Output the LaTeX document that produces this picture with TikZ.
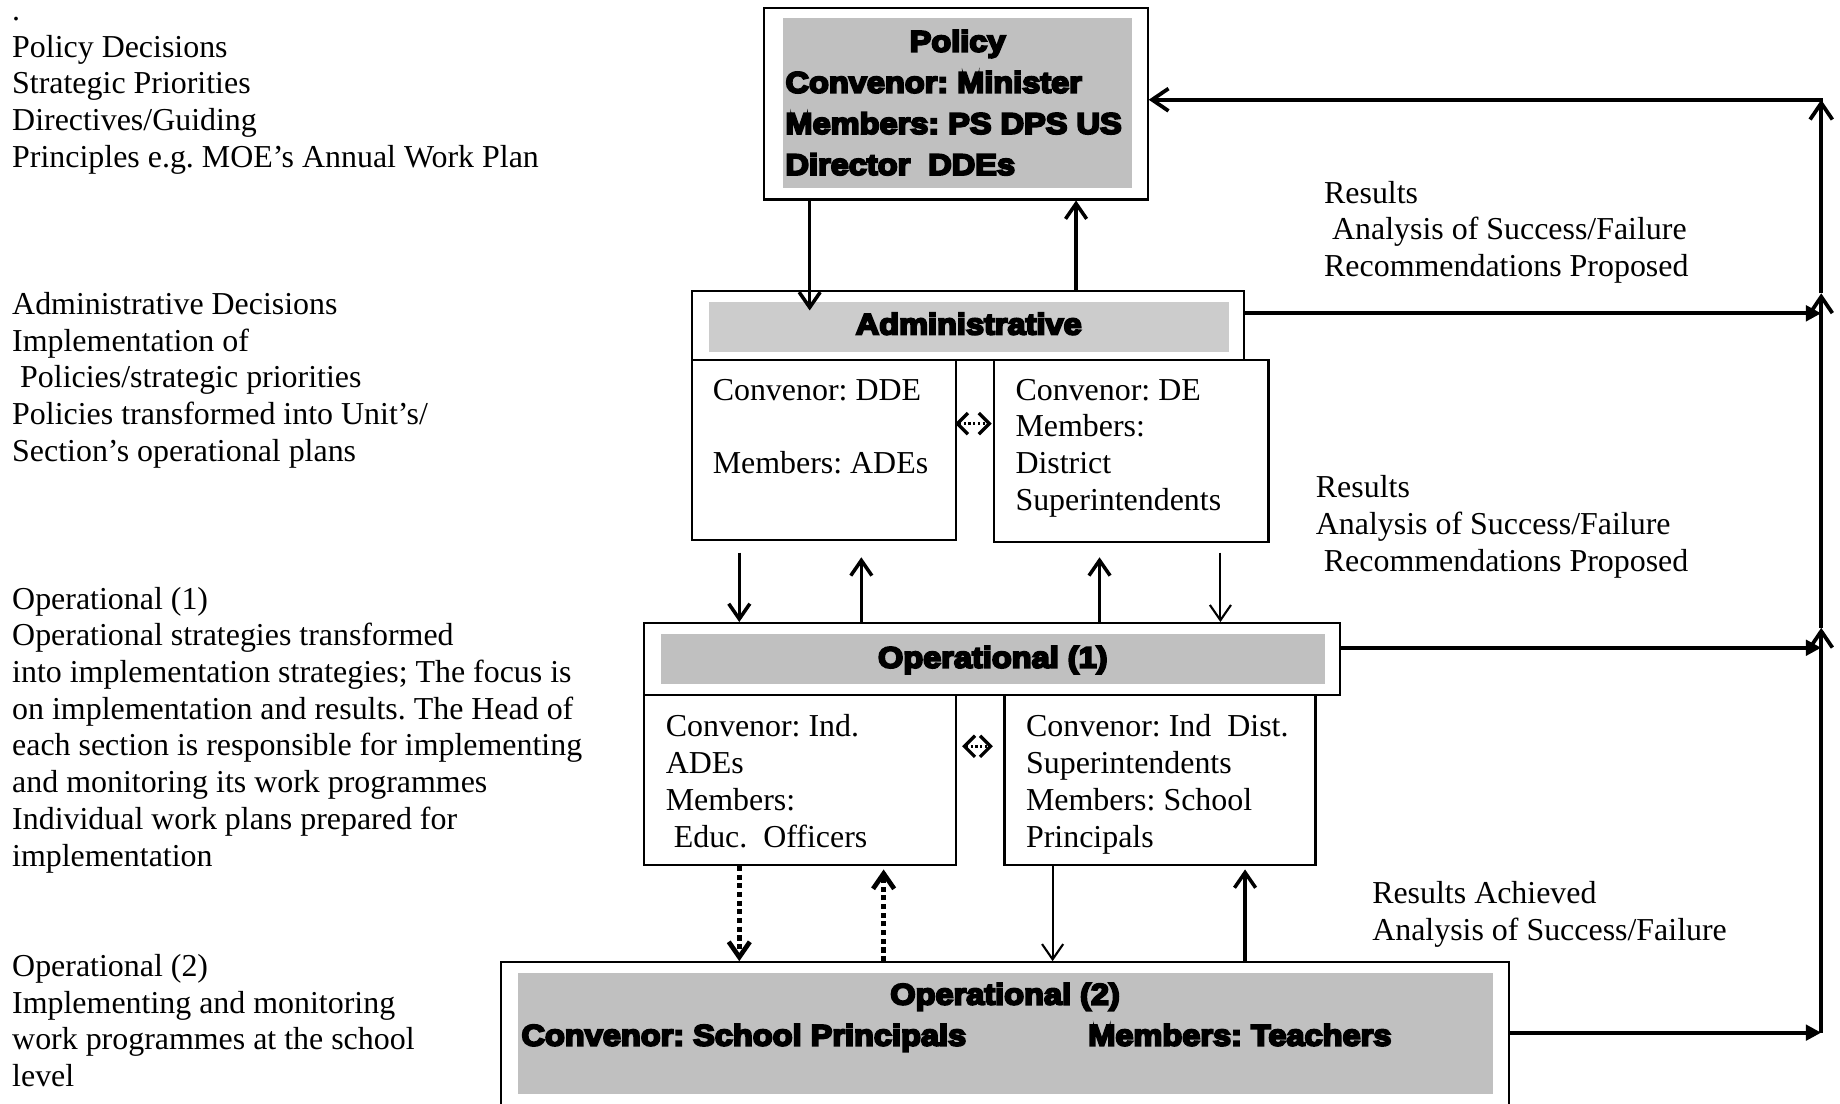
\documentclass[tikz,border=0pt]{standalone}
\usepackage{fontspec}
\setmainfont{Liberation Serif}
\newfontfamily\heavysans{Liberation Sans}[FakeStretch=1.1,FakeBold=7]
\usetikzlibrary{arrows.meta,fit,calc}
\definecolor{panel}{RGB}{192,192,192}
\definecolor{panellight}{RGB}{204,204,204}
% left-aligned block of lines whose baseline is the first line's
\newcommand\rowstack[1]{\vtop{\halign{##\hfil\cr#1\crcr}}}
\frenchspacing

\begin{document}
\begin{tikzpicture}[x=0.5pt,y=-0.5pt,
  frame/.style={draw=black,line width=0.9pt,inner sep=0pt,fill=white},
  bar/.style={fill=panel,draw=none,inner sep=0pt},
  body/.style={font=\fontsize{13.6pt}{15.65pt}\selectfont,inner sep=0pt,anchor=base west},
  head/.style={font=\heavysans\bfseries\fontsize{12.6pt}{17.5pt}\selectfont,inner sep=0pt},
  barb/.style={-{Straight Barb[length=6.5pt,width=9pt]}},
  heavyline/.style={line width=1.5pt},
  lightline/.style={line width=0.9pt},
  dashline/.style={line width=2pt,dash pattern=on 2.2pt off 1.5pt},
  feed/.style={line width=1.6pt},
  feedtip/.style={feed,-{Triangle[length=6.5pt,width=6.5pt]}},
  feedbarb/.style={feed,-{Straight Barb[length=7pt,width=9.5pt]}},
  peer/.style={line width=1.4pt,dash pattern=on 0.9pt off 1.1pt,
    {Straight Barb[length=4.5pt,width=9pt]}-{Straight Barb[length=4.5pt,width=9pt]}}
]
\useasboundingbox (0,0) rectangle (1568,940);

% ---- Policy level ----
\node[frame, fit={(651,7) (978,170)}] (pol) {};
\node[bar, fit={(667,15) (965,160)}] (polbar) {};
\node[head, anchor=base] (poltitle) at (polbar.north |- 0,44) {Policy};
\node[head, anchor=base west] (polmembers) at (669,79)
  {\rowstack{Convenor: Minister\cr Members: PS DPS US\cr Director\ \ DDEs}};

% ---- Administrative level ----
\node[frame, fit={(590,248) (1060,307)}] (adm) {};
\node[bar, fill=panellight, fit={(604,257) (1047,300)}] (admbar) {};
\node[head, anchor=base] (admtitle) at (admbar.north |- 0,285) {Administrative};
\node[frame, fit={(590,307) (815,460)}] (admL) {};
\node[frame, fit={(847,307) (1081,462)}] (admR) {};
\node[body] (admLtext) at (607,341)
  {\rowstack{Convenor: DDE\cr \strut\cr Members: ADEs}};
\node[body] (admRtext) at (865,341)
  {\rowstack{Convenor: DE\cr Members:\cr District\cr Superintendents}};

% ---- Operational (1) level ----
\node[frame, fit={(549,531) (1142,592)}] (op1) {};
\node[bar, fit={(563,540) (1129,583)}] (op1bar) {};
\node[head, anchor=base] (op1title) at (op1bar.north |- 0,569) {Operational (1)};
\node[frame, fit={(549,592) (815,737)}] (op1L) {};
\node[frame, fit={(856,592) (1121,737)}] (op1R) {};
\node[body] (op1Ltext) at (567,628)
  {\rowstack{Convenor: Ind.\cr ADEs\cr Members:\cr \ Educ.\ \ Officers}};
\node[body] (op1Rtext) at (874,628)
  {\rowstack{Convenor: Ind\ \ Dist.\cr Superintendents\cr Members: School\cr Principals}};

% ---- Operational (2) level ----
\node[frame, fit={(427,820) (1286,946)}] (op2) {};
\node[bar, fit={(441,829) (1272,932)}] (op2bar) {};
\node[head, anchor=base] (op2title) at (op2bar.north |- 0,856) {Operational (2)};
\node[head, anchor=base west] (op2conv) at (444,891) {Convenor: School Principals};
\node[head, anchor=base west] (op2mem) at (927,891) {Members: Teachers};

% ---- descriptions on the left ----
\node[body] (descPolicy) at (10,17.5) {\rowstack{.\cr Policy Decisions\cr Strategic Priorities\cr
  Directives/Guiding\cr Principles e.g. MOE's Annual Work Plan}};
\node[body] (descAdm) at (10,268) {\rowstack{Administrative Decisions\cr Implementation of\cr
  \ Policies/strategic priorities\cr Policies transformed into Unit's/\cr Section's operational plans}};
\node[body] (descOp1) at (10,519) {\rowstack{Operational (1)\cr Operational strategies transformed\cr
  into implementation strategies; The focus is\cr on implementation and results. The Head of\cr
  each section is responsible for implementing\cr and monitoring its work programmes\cr
  Individual work plans prepared for\cr implementation}};
\node[body] (descOp2) at (10,832) {\rowstack{Operational (2)\cr Implementing and monitoring\cr
  work programmes at the school\cr level}};

% ---- feedback labels on the right ----
\node[body] (fbTextA) at (1128,173) {\rowstack{Results\cr \ Analysis of Success/Failure\cr Recommendations Proposed}};
\node[body] (fbTextB) at (1121,424) {\rowstack{Results\cr Analysis of Success/Failure\cr \ Recommendations Proposed}};
\node[body] (fbTextC) at (1169,770) {\rowstack{Results Achieved\cr Analysis of Success/Failure}};

% ---- arrows between levels ----
\draw[heavyline, barb] (pol.south -| 690,0) -- ($(admbar.north -| 690,0)+(0,8)$);
\draw[heavyline, barb] (adm.north -| 917,0) -- (pol.south -| 917,0);

\draw[heavyline, barb] ($(admL.south -| 630,0)+(0,10)$) -- (op1.north -| 630,0);
\draw[heavyline, barb] (op1.north -| 734,0) -- ($(admL.south -| 734,0)+(0,14)$);
\draw[heavyline, barb] (op1.north -| 937,0) -- ($(admR.south -| 937,0)+(0,12)$);
\draw[lightline, barb] ($(admR.south -| 1040,0)+(0,8)$) -- (op1.north -| 1040,0);

\draw[dashline, barb] (op1L.south -| 630,0) -- (op2.north -| 630,0);
\draw[dashline, barb] (op2.north -| 753,0) -- ($(op1L.south -| 753,0)+(0,3)$);
\draw[lightline, barb] (op1R.south -| 897,0) -- (op2.north -| 897,0);
\draw[heavyline, barb] (op2.north -| 1061,0) -- ($(op1R.south -| 1061,0)+(0,3)$);

% ---- links between peer committees ----
\draw[peer] ($(admL.east |- 0,361)+(-2,0)$) -- ($(admR.west |- 0,361)+(-1,0)$);
\draw[peer] ($(op1L.east |- 0,636)+(4,0)$) -- ($(op1R.west |- 0,636)+(-9,0)$);

% ---- feedback loop on the right ----
\coordinate (fbTop) at (1552,85);
\coordinate (fbAdm) at (1552,267);
\coordinate (fbOp1) at (1552,552);
\coordinate (fbOp2) at (1552,880);
\coordinate (tipAdm) at (1552,250);
\coordinate (tipOp1) at (1552,535);

\draw[feedtip] (adm.east |- fbAdm) -- (fbAdm);
\draw[feedtip] (op1.east |- fbOp1) -- (fbOp1);
\draw[feedtip] (op2.east |- fbOp2) -- (fbOp2);
\draw[feedbarb] (fbOp2) -- (tipOp1);
\draw[feedbarb] (tipOp1) -- (tipAdm);
\draw[feedbarb] (tipAdm) -- (fbTop);
\draw[feedbarb] ($(fbTop)+(1.5,0)$) -- (pol.east |- fbTop);
\end{tikzpicture}
\end{document}
